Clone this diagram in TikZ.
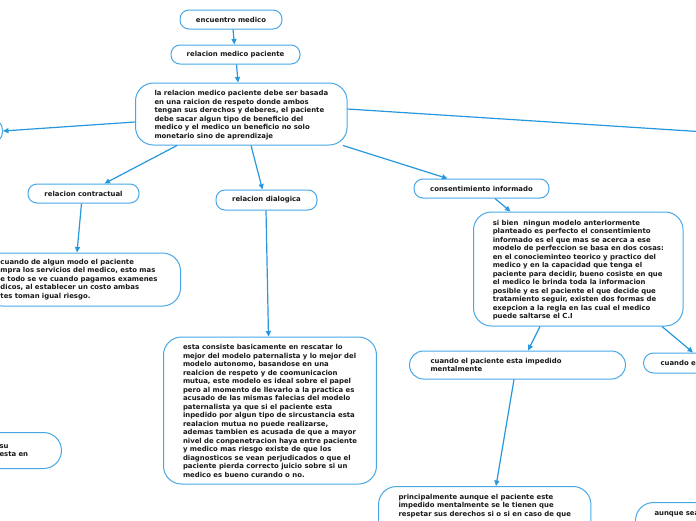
\documentclass[tikz,border=0pt]{standalone}
\usepackage{fontspec}
\setmainfont{DejaVu Sans}
\usetikzlibrary{arrows.meta}
\definecolor{boxc}{RGB}{72,168,230}
\definecolor{arrc}{RGB}{40,152,222}
\definecolor{txtc}{RGB}{25,25,25}
\tikzset{
  base/.style={draw=boxc, line width=1pt, text=txtc, font=\fontsize{6.9}{8.5}\selectfont\bfseries, inner ysep=0pt},
  pill/.style={base, rounded corners=9pt, inner xsep=0pt, align=center},
  para/.style={base, rounded corners=18pt, align=left},
  conn/.style={draw=arrc, line width=1.2pt, -{Triangle[length=5.5pt,width=5pt]}},
}
\begin{document}
\begin{tikzpicture}[x=1pt,y=-1pt]
\useasboundingbox (0,0) rectangle (696,520);
\clip (0,0) rectangle (696,520);
\fill[white] (0,0) rectangle (696,520);

\node[pill, minimum width=102pt, minimum height=19pt] (enc) at (231,19.5) {encuentro medico};
\node[pill, minimum width=129pt, minimum height=19pt] (rmp) at (235.5,54.5) {relacion medico paciente};
\node[para, inner xsep=19pt, text height=49pt, text depth=1pt, minimum height=62pt, anchor=west] (main) at (135,114) {la relacion medico paciente debe ser basada\\en una raicion de respeto donde ambos\\tengan sus derechos y deberes, el paciente\\debe sacar algun tipo de beneficio del\\medico y el medico un beneficio no solo\\monetario sino de aprendizaje};
\node[pill, rounded corners=11pt, minimum width=100pt, minimum height=24pt, anchor=east] (lft) at (3,131) {};
\coordinate (rgt) at (760,135.5);

\node[pill, minimum width=111pt, minimum height=19pt] (contr) at (83.5,193.5) {relacion contractual};
\node[para, inner xsep=16pt, text width=164pt, minimum height=53pt, anchor=east] (contrp) at (181,279.5) {cuando de algun modo el paciente\\mpra los servicios del medico, esto mas\\e todo se ve cuando pagamos examenes\\dicos, al establecer un costo ambas\\tes toman igual riesgo.};

\node[pill, minimum width=101pt, minimum height=20pt] (dial) at (266.5,200) {relacion dialogica};
\node[para, inner xsep=19.5pt, text height=134pt, text depth=1pt, minimum height=147pt, anchor=west] (dialp) at (163,410.5) {esta consiste basicamente en rescatar lo\\mejor del modelo paternalista y lo mejor del\\modelo autonomo, basandose en una\\realcion de respeto y de coomunicacion\\mutua, este modelo es ideal sobre el papel\\pero al momento de llevarlo a la practica es\\acusado de las mismas falecias del modelo\\paternalista ya que si el paciente esta\\inpedido por algun tipo de sircustancia esta\\realacion mutua no puede realizarse,\\ademas tambien es acusada de que a mayor\\nivel de conpenetracion haya entre paciente\\y medico mas riesgo existe de que los\\diagnosticos se vean perjudicados o que el\\paciente pierda correcto juicio sobre si un\\medico es bueno curando o no.};

\node[para, rounded corners=18pt, inner xsep=17pt, text width=45pt, minimum height=36pt, anchor=east] (lowl) at (62,450.5) {su\\esta en};

\node[pill, minimum width=135pt, minimum height=19pt] (cons) at (481.5,188.5) {consentimiento informado};
\node[para, inner xsep=19.3pt, text height=100pt, text depth=1pt, minimum height=114pt, anchor=west] (consp) at (473,269) {si bien\ \ ningun modelo anteriormente\\planteado es perfecto el consentimiento\\informado es el que mas se acerca a ese\\modelo de perfeccion se basa en dos cosas:\\en el conocieminteo teorico y practico del\\medico y en la capacidad que tenga el\\paciente para decidir, bueno cosiste en que\\el medico le brinda toda la informacion\\posible y es el paciente el que decide que\\tratamiento seguir, existen dos formas de\\exepcion a la regla en las cual el medico\\puede saltarse el C.I};

\node[para, rounded corners=14pt, inner xsep=21pt, text width=174pt, minimum height=28pt, anchor=west] (imp) at (409,365) {cuando el paciente esta impedido\\mentalmente};
\node[para, rounded corners=10pt, inner xsep=17pt, text width=150pt, minimum height=20pt, anchor=west] (cue) at (643,363) {cuando e};
\node[para, inner xsep=20pt, inner ysep=6pt, text height=23.5pt, text depth=80pt, anchor=north west] (prin) at (378,486) {principalmente aunque el paciente este\\impedido mentalmente se le tienen que\\respetar sus derechos si o si en caso de que};
\node[para, inner xsep=19pt, inner ysep=6pt, text height=6.5pt, text depth=60pt, text width=150pt, anchor=north west] (aunq) at (635,502) {aunque sea};

\draw[conn] ([xshift=2pt]enc.south) -- ([xshift=-1pt]rmp.north);
\draw[conn] ([xshift=1pt]rmp.south) -- ([xshift=103pt]main.north west);
\draw[conn] ([yshift=-8pt]main.west) -- (lft.east);
\draw[conn, -] ([yshift=5pt]main.east) -- (rgt);
\draw[conn] ([xshift=42pt]main.south west) -- ([xshift=77pt]contr.north west);
\draw[conn] ([xshift=54pt]contr.south west) -- ([xshift=93pt]contrp.north west);
\draw[conn] ([xshift=116pt]main.south west) -- ([xshift=47pt]dial.north west);
\draw[conn] ([xshift=50.5pt]dial.south west) -- ([xshift=105.5pt]dialp.north west);
\draw[conn] ([xshift=208pt]main.south west) -- ([xshift=34pt]cons.north west);
\draw[conn] ([xshift=81.5pt]cons.south west) -- ([xshift=37.5pt]consp.north west);
\draw[conn] ([xshift=67pt]consp.south west) -- ([xshift=119pt]imp.north west);
\draw[conn] ([xshift=189pt]consp.south west) -- ([xshift=50pt]cue.north west);
\draw[conn] ([xshift=105pt]imp.south west) -- ([xshift=118pt]prin.north west);
\end{tikzpicture}
\end{document}
